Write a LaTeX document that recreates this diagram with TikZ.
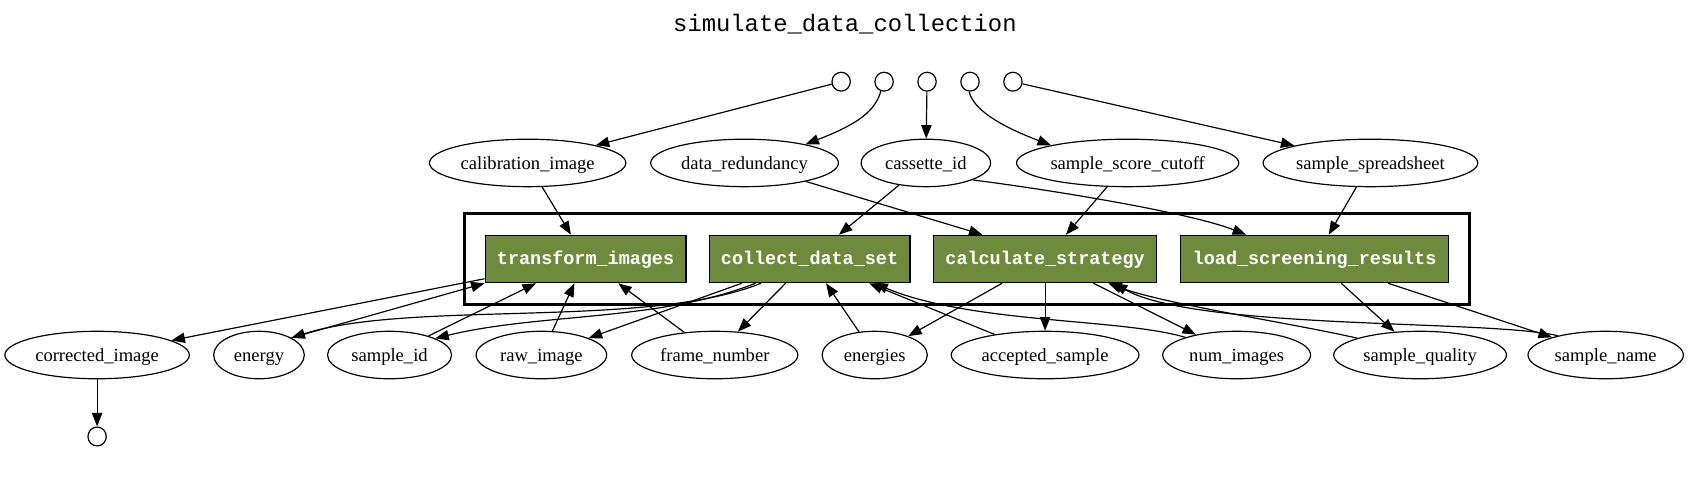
\documentclass[tikz,border=0pt]{standalone}
\usepackage{fontspec}
\setmainfont{Liberation Serif}
\newfontfamily\monofont{Liberation Mono}
\usetikzlibrary{arrows.meta,shapes.geometric}
\definecolor{boxgreen}{RGB}{110,139,61}
\begin{document}
\begin{tikzpicture}[x=1pt,y=-1pt,
  line width=1.1pt, >={Triangle[length=12.5pt,width=9.5pt]},
  var/.style={ellipse, draw, line width=1.1pt, inner sep=0pt, minimum height=44pt,
    font=\fontsize{17.2}{20}\selectfont, text height=13pt, text depth=1pt},
  port/.style={ellipse, draw, line width=1.1pt, inner sep=0pt, minimum width=17pt, minimum height=17.5pt},
  stepbox/.style={rectangle, draw=black, fill=boxgreen, text=white, line width=1pt,
    inner xsep=11pt, inner ysep=0pt, minimum height=44pt,
    font=\monofont\bfseries\fontsize{17.1}{20}\selectfont, text height=12.6pt, text depth=2pt},
  flow/.style={->},
  cluster/.style={draw, line width=2.4pt}
]
\path[use as bounding box] (0,0) rectangle (1568,447.6);

\node[anchor=base, font=\monofont\fontsize{22.1}{26}\selectfont] (title) at (783,29.4) {simulate\_data\_collection};

\node[port] (c1) at (779.5,75.7) {};
\node[port] (c2) at (819.3,75.7) {};
\node[port] (c3) at (859.1,75.7) {};
\node[port] (c4) at (898.9,75.7) {};
\node[port] (c5) at (938.7,75.7) {};

\node[var, minimum width=182pt] (calib) at (489,151) {calibration\_image};
\node[var, minimum width=174pt] (dred) at (690,151) {data\_redundancy};
\node[var, minimum width=120pt] (cass) at (858,151) {cassette\_id};
\node[var, minimum width=206pt] (ssc) at (1045,151) {sample\_score\_cutoff};
\node[var, minimum width=199pt] (ssheet) at (1270,151) {sample\_spreadsheet};

\draw[cluster] (430.3,197.7) rectangle (1361.6,282);

\node[stepbox] (ti) at (542.65,240) {transform\_images};
\node[stepbox] (cds) at (750.2,240) {collect\_data\_set};
\node[stepbox] (cs) at (968.5,240) {calculate\_strategy};
\node[stepbox] (lsr) at (1218.25,240) {load\_screening\_results};

\node[var, minimum width=171pt] (corr) at (90,329) {corrected\_image};
\node[var, minimum width=84pt] (energy) at (240,329) {energy};
\node[var, minimum width=115pt] (sid) at (361,329) {sample\_id};
\node[var, minimum width=121pt] (raw) at (501.7,329) {raw\_image};
\node[var, minimum width=154pt] (frame) at (662.4,329) {frame\_number};
\node[var, minimum width=97.5pt] (energies) at (810.6,329) {energies};
\node[var, minimum width=174pt] (acc) at (968.5,329) {accepted\_sample};
\node[var, minimum width=137pt] (nimg) at (1146,329) {num\_images};
\node[var, minimum width=160pt] (squal) at (1316,329) {sample\_quality};
\node[var, minimum width=144pt] (sname) at (1488,329) {sample\_name};
\node[port] (cout) at (90,404.5) {};

\draw[flow] (c1) -- (calib);
\draw[flow] (c2.-109) .. controls (811,103) and (795,115) .. (dred.17);
\draw[flow] (c3) -- (cass);
\draw[flow] (c4.-95) .. controls (902,101) and (925,116) .. (ssc.167);
\draw[flow] (c5) -- (ssheet);

\draw[flow] (calib) -- (ti);
\draw[flow] (dred) -- ([xshift=-58pt]cs.north);
\draw[flow] (cass) -- (cds);
\draw[flow] (cass.-20) .. controls (960,174) and (1100,196) .. ([xshift=-63.5pt]lsr.north);
\draw[flow] (ssc) -- (cs);
\draw[flow] (ssheet) -- (lsr);

\draw[flow] (ti) -- (corr);
\draw[flow] (energy.north east) -- (ti.south west);
\draw[flow] (sid) -- (ti);
\draw[flow] (raw) -- (ti);
\draw[flow] (frame) -- (ti);

\draw[flow] ([xshift=-45pt]cds.south) .. controls (600,305) and (380,278) .. (energy.north east);
\draw[flow] ([xshift=-50pt]cds.south) .. controls (610,298) and (500,290) .. (sid.20);
\draw[flow] (cds) -- (raw);
\draw[flow] (cds) -- (frame);
\draw[flow] (energies) -- (cds);
\draw[flow] (acc) -- (cds);
\draw[flow] (nimg.161) .. controls (1040,295) and (900,300) .. ([xshift=60pt]cds.south);

\draw[flow] (cs) -- (energies);
\draw[flow] (cs) -- (acc);
\draw[flow] (cs) -- (nimg);
\draw[flow] (squal.165) .. controls (1200,300) and (1080,282) .. ([xshift=58.5pt]cs.south);
\draw[flow] (sname.158) .. controls (1380,296) and (1110,306) .. ([xshift=63.5pt]cs.south);

\draw[flow] (lsr) -- (squal);
\draw[flow] (lsr) -- (sname);
\draw[flow] (corr) -- (cout);
\end{tikzpicture}
\end{document}
